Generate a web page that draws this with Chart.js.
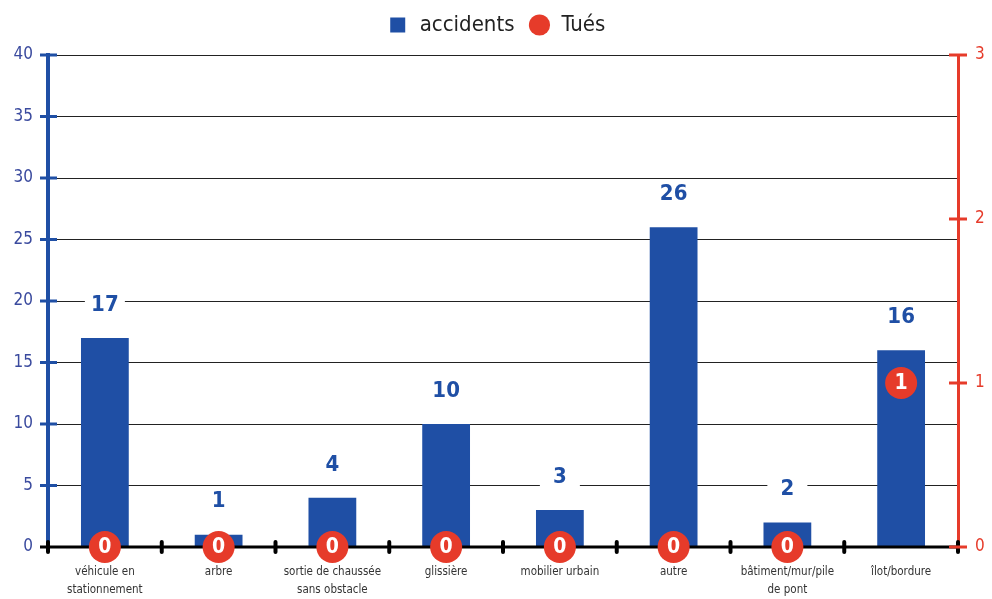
<!DOCTYPE html>
<html>
<head>
<meta charset="utf-8">
<script src="https://cdn.jsdelivr.net/npm/chart.js@4/dist/chart.umd.min.js"></script>
<style>
  html, body { margin: 0; padding: 0; background: #fff; }
  #wrap { width: 992px; height: 599px; }
</style>
</head>
<body>
<div id="wrap"><canvas id="myChart" width="992" height="599"></canvas></div>
<script>
// catégories et valeurs
const categories = [
    ['véhicule en', 'stationnement'],
    'arbre',
    ['sortie de chaussée', 'sans obstacle'],
    'glissière',
    'mobilier urbain',
    'autre',
    ['bâtiment/mur/pile', 'de pont'],
    'îlot/bordure'
]
const accidents = [17, 1, 4, 10, 3, 26, 2, 16]
const tues = [0, 0, 0, 0, 0, 0, 0, 1]
const leftMax = 40, leftStep = 5
const rightMax = 3, rightStep = 1

const BLUE = '#1f4fa5'
const RED = '#e63b2a'
const FONT = "'Liberation Sans Narrow', 'DejaVu Sans Condensed', 'Noto Sans', sans-serif"

// étiquettes, croix des axes et ligne noire de l'axe x
const deco = {
    id: 'deco',
    afterDatasetDraw(chart, args) {
        if (args.index !== 0) return
        const {ctx, chartArea, scales} = chart
        const x = scales.x, y = scales.y, y1 = scales.y1
        ctx.save()
        // valeurs au-dessus des barres
        const bars = chart.getDatasetMeta(0).data
        ctx.font = 'bold 22px ' + FONT
        ctx.textAlign = 'center'
        ctx.textBaseline = 'middle'
        bars.forEach((b, i) => {
            const cy = b.y - 33
            ctx.fillStyle = '#fff'
            ctx.fillRect(b.x - 20, cy - 13, 40, 30)
            ctx.fillStyle = BLUE
            ctx.fillText(String(accidents[i]), b.x, cy)
        })
        // axe x noir
        ctx.strokeStyle = '#000'
        ctx.lineWidth = 3
        ctx.beginPath()
        ctx.moveTo(chartArea.left - 8, chartArea.bottom)
        ctx.lineTo(chartArea.right, chartArea.bottom)
        ctx.stroke()
        // marques noires entre catégories
        const step = x.getPixelForValue(1) - x.getPixelForValue(0)
        ctx.lineWidth = 4
        ctx.lineCap = 'round'
        for (let i = 0; i <= categories.length; i++) {
            const px = x.getPixelForValue(0) - step / 2 + i * step
            ctx.beginPath()
            ctx.moveTo(px, chartArea.bottom - 5)
            ctx.lineTo(px, chartArea.bottom + 5)
            ctx.stroke()
        }
        ctx.lineCap = 'butt'
        // croix axe gauche
        ctx.strokeStyle = BLUE
        ctx.lineWidth = 3
        for (let v = leftStep; v <= leftMax; v += leftStep) {
            const py = y.getPixelForValue(v)
            ctx.beginPath()
            ctx.moveTo(chartArea.left - 8, py)
            ctx.lineTo(chartArea.left + 9, py)
            ctx.stroke()
        }
        // croix axe droit
        ctx.strokeStyle = RED
        for (let v = 0; v <= rightMax; v += rightStep) {
            const py = y1.getPixelForValue(v)
            ctx.beginPath()
            ctx.moveTo(chartArea.right - 9, py)
            ctx.lineTo(chartArea.right + 9, py)
            ctx.stroke()
        }
        ctx.restore()
    },
    afterDatasetsDraw(chart) {
        const {ctx} = chart
        const pts = chart.getDatasetMeta(1).data
        ctx.save()
        ctx.font = 'bold 21px ' + FONT
        ctx.fillStyle = '#fff'
        ctx.textAlign = 'center'
        ctx.textBaseline = 'middle'
        pts.forEach((p, i) => {
            ctx.fillText(String(tues[i]), p.x, p.y + 1)
        })
        ctx.restore()
    },
    beforeInit(chart) {
        const fit = chart.legend.fit
        chart.legend.fit = function () {
            fit.call(this)
            this.height = 55
        }
    }
}

const ctx = document.getElementById('myChart')

new Chart(ctx, {
    data: {
        labels: categories,
        datasets: [{
            type: 'bar',
            label: 'accidents',
            data: accidents,
            backgroundColor: BLUE,
            pointStyle: 'rect',
            yAxisID: 'y',
            barPercentage: 0.42,
            categoryPercentage: 1,
            order: 2
        }, {
            type: 'line',
            label: 'Tués',
            data: tues,
            showLine: false,
            pointStyle: 'circle',
            pointRadius: 16,
            pointBackgroundColor: RED,
            pointBorderWidth: 0,
            backgroundColor: RED,
            borderColor: RED,
            yAxisID: 'y1',
            clip: false,
            order: 1
        }]
    },
    options: {
        responsive: false,
        animation: false,
        layout: {padding: 0},
        plugins: {
            legend: {
                position: 'top',
                labels: {
                    usePointStyle: true,
                    boxHeight: 15,
                    padding: 14,
                    color: '#222',
                    font: {family: FONT, size: 22},
                    sort: (a, b) => a.datasetIndex - b.datasetIndex
                }
            },
            tooltip: {enabled: false}
        },
        scales: {
            x: {
                offset: true,
                grid: {display: false, drawTicks: false},
                border: {display: false},
                ticks: {
                    color: '#333',
                    font: {family: FONT, size: 11.5, lineHeight: 1.55},
                    padding: 16,
                    maxRotation: 0,
                    autoSkip: false
                },
                afterFit(scale) { scale.height = 52 }
            },
            y: {
                position: 'left',
                min: 0,
                max: leftMax,
                ticks: {
                    stepSize: leftStep,
                    color: '#3a4a9e',
                    font: {family: FONT, size: 17},
                    padding: 15
                },
                grid: {color: '#222', lineWidth: 1, drawTicks: false},
                border: {color: BLUE, width: 4},
                afterFit(scale) { scale.width = 48 }
            },
            y1: {
                position: 'right',
                min: 0,
                max: rightMax,
                ticks: {
                    stepSize: rightStep,
                    color: RED,
                    font: {family: FONT, size: 17},
                    padding: 17
                },
                grid: {drawOnChartArea: false, drawTicks: false},
                border: {color: RED, width: 3},
                afterFit(scale) { scale.width = 34 }
            }
        }
    },
    plugins: [deco]
})
</script>
</body>
</html>
